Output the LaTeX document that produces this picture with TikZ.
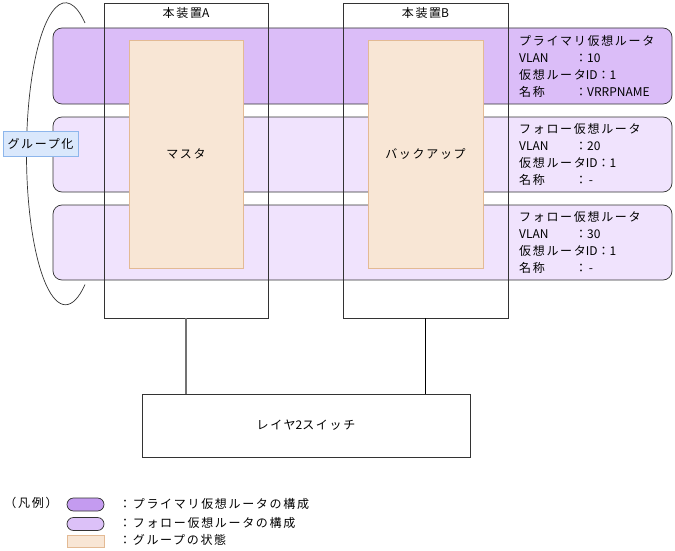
\documentclass[tikz,border=0pt]{standalone}
\usepackage{fontspec}
\setmainfont{Noto Sans CJK JP}[LetterSpace=14]
\newfontfamily\latn{Noto Sans CJK JP}
\usetikzlibrary{positioning,calc}
\definecolor{primfill}{HTML}{DBBDF8}
\definecolor{follfill}{HTML}{F0E3FD}
\definecolor{legprim}{HTML}{C49BF0}
\definecolor{legfoll}{HTML}{DCC1F8}
\definecolor{statefill}{HTML}{F8E6D5}
\definecolor{stateline}{HTML}{E3BA94}
\definecolor{grpfill}{HTML}{DAE8FC}
\definecolor{grpline}{HTML}{8DB6EC}
\definecolor{bk70}{HTML}{333333}
\tikzset{
  band/.style={
    rectangle, rounded corners=9pt, draw=bk70, fill=#1, line width=0.7pt,
    minimum width=619pt, minimum height=75pt, inner sep=0pt
  },
  band/.default=follfill,
  devbox/.style={
    rectangle, draw=bk70, line width=0.8pt,
    minimum width=164pt, minimum height=315pt, inner sep=0pt
  },
  statebox/.style={
    rectangle, draw=stateline, fill=statefill, line width=0.8pt,
    minimum width=114pt, minimum height=228pt, inner sep=0pt
  },
  infotext/.style={
    font=\fontsize{12}{17}\selectfont, align=left, anchor=west, inner sep=0pt
  },
  plaintext/.style={
    font=\fontsize{12}{15}\selectfont, inner sep=0pt
  },
  legpill/.style={
    rectangle, rounded corners=6.5pt, draw=bk70, fill=#1, line width=0.7pt,
    minimum width=37pt, minimum height=13pt, inner sep=0pt
  },
}
\newcommand{\keycol}[1]{\makebox[56pt][l]{#1}}

\begin{document}
\begin{tikzpicture}[x=1pt, y=-1pt]
  \useasboundingbox (0,0) rectangle (675,551);

  % VRRP bands
  \node[band=primfill, minimum height=76pt] (bprim) at (362.5,66) {};
  \node[band] (bfoll1) at (362.5,154.5) {};
  \node[band] (bfoll2) at (362.5,242.5) {};

  % devices
  \node[devbox] (devA) at (186,160.5) {};
  \node[devbox, minimum width=165pt] (devB) at (425.5,160.5) {};
  \node[plaintext, below=5pt of devA.north] (devAlbl) {本装置{\latn A}};
  \node[plaintext, below=5pt of devB.north] (devBlbl) {本装置{\latn B}};

  % group state
  \node[statebox, plaintext] (stA) at (186,154) {マスタ};
  \node[statebox, plaintext, minimum width=115pt] (stB) at (425.5,154) {バックアップ};

  % band info
  \node[infotext] (iprim) at (519,66) {プライマリ仮想ルータ\\\keycol{\latn VLAN}：{\latn 10}\\仮想ルータ{\latn ID}：{\latn 1}\\\keycol{名称}：{\latn VRRPNAME}};
  \node[infotext] (ifoll1) at (519,154.5) {フォロー仮想ルータ\\\keycol{\latn VLAN}：{\latn 20}\\仮想ルータ{\latn ID}：{\latn 1}\\\keycol{名称}：-};
  \node[infotext] (ifoll2) at (519,242.5) {フォロー仮想ルータ\\\keycol{\latn VLAN}：{\latn 30}\\仮想ルータ{\latn ID}：{\latn 1}\\\keycol{名称}：-};

  % grouping
  \draw[bk70, line width=0.7pt] (85,23) arc[start angle=60, end angle=300, x radius=39pt, y radius=151pt];
  \node[plaintext, draw=grpline, fill=grpfill, line width=0.8pt,
        minimum width=75pt, minimum height=25pt] (grp) at (40.5,143.5) {グループ化};

  % switch
  \node[plaintext, draw=bk70, line width=0.8pt, minimum width=328pt, minimum height=63pt] (sw) at (306,425.5) {レイヤ{\latn 2}スイッチ};
  \draw[black!55, line width=1.4pt] (devA.south) -- (devA.south |- sw.north);
  \draw[black, line width=0.8pt] (devB.south) -- (devB.south |- sw.north);

  % legend
  \node[plaintext] (leg) at (31,503) {（凡例）};
  \node[legpill=legprim] (legp) at (85.5,504.5) {};
  \node[legpill=legfoll] (legf) at (85.5,524) {};
  \node[rectangle, draw=stateline, fill=statefill, line width=0.8pt,
        minimum width=37pt, minimum height=12pt, inner sep=0pt] (legs) at (85.5,541) {};
  \node[plaintext, anchor=west] (legptxt) at (119,504) {：プライマリ仮想ルータの構成};
  \node[plaintext, anchor=west] (legftxt) at (119,523) {：フォロー仮想ルータの構成};
  \node[plaintext, anchor=west] (legstxt) at (119,540) {：グループの状態};
\end{tikzpicture}
\end{document}
